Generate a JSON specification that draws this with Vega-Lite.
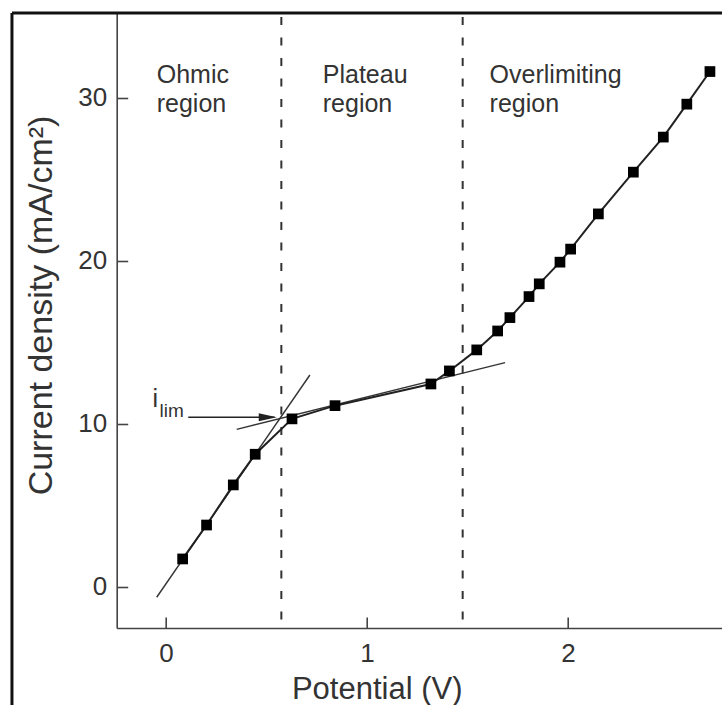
{
  "$schema": "https://vega.github.io/schema/vega-lite/v6.json",
  "width": 605.3,
  "height": 615,
  "autosize": {"type": "none"},
  "padding": {"left": 116.7, "top": 13, "right": 0, "bottom": 77},
  "background": "white",
  "config": {
    "view": {"stroke": null},
    "font": "Liberation Sans",
    "axis": {
      "grid": false,
      "domainColor": "#444",
      "domainWidth": 1.6,
      "tickColor": "#444",
      "tickWidth": 1.6,
      "tickSize": -11,
      "labelFont": "Liberation Sans",
      "labelFontSize": 26,
      "labelColor": "#333",
      "titleFont": "Liberation Sans",
      "titleFontSize": 31,
      "titleFontWeight": "normal",
      "titleColor": "#333"
    }
  },
  "datasets": {
    "points": [
      {"x": 0.083, "y": 1.72},
      {"x": 0.202, "y": 3.80},
      {"x": 0.335, "y": 6.26},
      {"x": 0.444, "y": 8.14},
      {"x": 0.627, "y": 10.31},
      {"x": 0.841, "y": 11.12},
      {"x": 1.318, "y": 12.45},
      {"x": 1.410, "y": 13.25},
      {"x": 1.546, "y": 14.54},
      {"x": 1.650, "y": 15.70},
      {"x": 1.711, "y": 16.52},
      {"x": 1.806, "y": 17.81},
      {"x": 1.857, "y": 18.59},
      {"x": 1.960, "y": 19.92},
      {"x": 2.013, "y": 20.72},
      {"x": 2.151, "y": 22.88},
      {"x": 2.325, "y": 25.44},
      {"x": 2.474, "y": 27.59},
      {"x": 2.591, "y": 29.61},
      {"x": 2.706, "y": 31.61}
    ],
    "tangents": [
      {"fit": "ohmic", "x": -0.046, "y": -0.63},
      {"fit": "ohmic", "x": 0.716, "y": 13.0},
      {"fit": "plateau", "x": 0.352, "y": 9.67},
      {"fit": "plateau", "x": 1.687, "y": 13.76}
    ],
    "dividers": [
      {"x": 0.574, "y": -2.0, "y2": 35.2},
      {"x": 1.476, "y": -2.0, "y2": 35.2}
    ],
    "frame": [
      {"x": -0.766, "x2": 2.8, "y": 35.2, "y2": 35.2},
      {"x": -0.766, "x2": -0.766, "y": 35.2, "y2": -7.5}
    ],
    "regions": [
      {"label": "Ohmic\nregion", "x": -0.046, "y": 30.9},
      {"label": "Plateau\nregion", "x": 0.78, "y": 30.9},
      {"label": "Overlimiting\nregion", "x": 1.61, "y": 30.9}
    ],
    "arrow": [
      {"x": 0.111, "x2": 0.54, "y": 10.41}
    ],
    "arrowhead": [
      {"x": 0.551, "y": 10.41}
    ],
    "ilim_i": [
      {"label": "i", "x": -0.067, "y": 11.06}
    ],
    "ilim_sub": [
      {"label": "lim", "x": -0.032, "y": 10.41}
    ]
  },
  "layer": [
    {
      "data": {"name": "dividers"},
      "mark": {"type": "rule", "color": "#333", "strokeWidth": 2, "strokeDash": [8, 12.5]},
      "encoding": {
        "x": {
          "field": "x", "type": "quantitative",
          "scale": {"domain": [-0.245, 2.766], "nice": false, "zero": false},
          "axis": {"title": "Potential (V)", "values": [0, 1, 2], "format": "d", "labelPadding": 23, "titleBaseline": "alphabetic", "titleAlign": "center", "titleX": 260, "titleY": 70}
        },
        "y": {
          "field": "y", "type": "quantitative",
          "scale": {"domain": [-2.515, 35.2], "nice": false, "zero": false},
          "axis": {"title": "Current density (mA/cm²)", "values": [0, 10, 20, 30], "format": "d", "labelPadding": 21, "titleFontSize": 34, "titleBaseline": "alphabetic", "titleAlign": "center", "titleAngle": -90, "titleX": -65, "titleY": 292}
        },
        "y2": {"field": "y2"}
      }
    },
    {
      "data": {"name": "tangents"},
      "mark": {"type": "line", "color": "#333", "strokeWidth": 1.4},
      "encoding": {
        "x": {"field": "x", "type": "quantitative"},
        "y": {"field": "y", "type": "quantitative"},
        "detail": {"field": "fit"}
      }
    },
    {
      "data": {"name": "points"},
      "mark": {"type": "line", "color": "#222", "strokeWidth": 2},
      "encoding": {
        "x": {"field": "x", "type": "quantitative"},
        "y": {"field": "y", "type": "quantitative"}
      }
    },
    {
      "data": {"name": "points"},
      "mark": {"type": "point", "shape": "square", "filled": true, "color": "#000", "size": 115, "opacity": 1},
      "encoding": {
        "x": {"field": "x", "type": "quantitative"},
        "y": {"field": "y", "type": "quantitative"}
      }
    },
    {
      "data": {"name": "arrow"},
      "mark": {"type": "rule", "color": "#222", "strokeWidth": 1.6},
      "encoding": {
        "x": {"field": "x", "type": "quantitative"},
        "x2": {"field": "x2"},
        "y": {"field": "y", "type": "quantitative"}
      }
    },
    {
      "data": {"name": "arrowhead"},
      "mark": {"type": "point", "shape": "M0,0L-2,-0.45L-2,0.45Z", "filled": true, "color": "#222", "size": 324, "opacity": 1},
      "encoding": {
        "x": {"field": "x", "type": "quantitative"},
        "y": {"field": "y", "type": "quantitative"}
      }
    },
    {
      "data": {"name": "regions"},
      "mark": {"type": "text", "align": "left", "baseline": "alphabetic", "fontSize": 25, "color": "#333", "lineBreak": "\n", "lineHeight": 29, "font": "Liberation Sans"},
      "encoding": {
        "x": {"field": "x", "type": "quantitative"},
        "y": {"field": "y", "type": "quantitative"},
        "text": {"field": "label"}
      }
    },
    {
      "data": {"name": "ilim_i"},
      "mark": {"type": "text", "align": "left", "baseline": "alphabetic", "fontSize": 25, "color": "#333", "font": "Liberation Sans"},
      "encoding": {
        "x": {"field": "x", "type": "quantitative"},
        "y": {"field": "y", "type": "quantitative"},
        "text": {"field": "label"}
      }
    },
    {
      "data": {"name": "ilim_sub"},
      "mark": {"type": "text", "align": "left", "baseline": "alphabetic", "fontSize": 19, "color": "#333", "font": "Liberation Sans"},
      "encoding": {
        "x": {"field": "x", "type": "quantitative"},
        "y": {"field": "y", "type": "quantitative"},
        "text": {"field": "label"}
      }
    },
    {
      "data": {"name": "frame"},
      "mark": {"type": "rule", "color": "#111", "strokeWidth": 3, "clip": false},
      "encoding": {
        "x": {"field": "x", "type": "quantitative"},
        "x2": {"field": "x2"},
        "y": {"field": "y", "type": "quantitative"},
        "y2": {"field": "y2"}
      }
    }
  ]
}
